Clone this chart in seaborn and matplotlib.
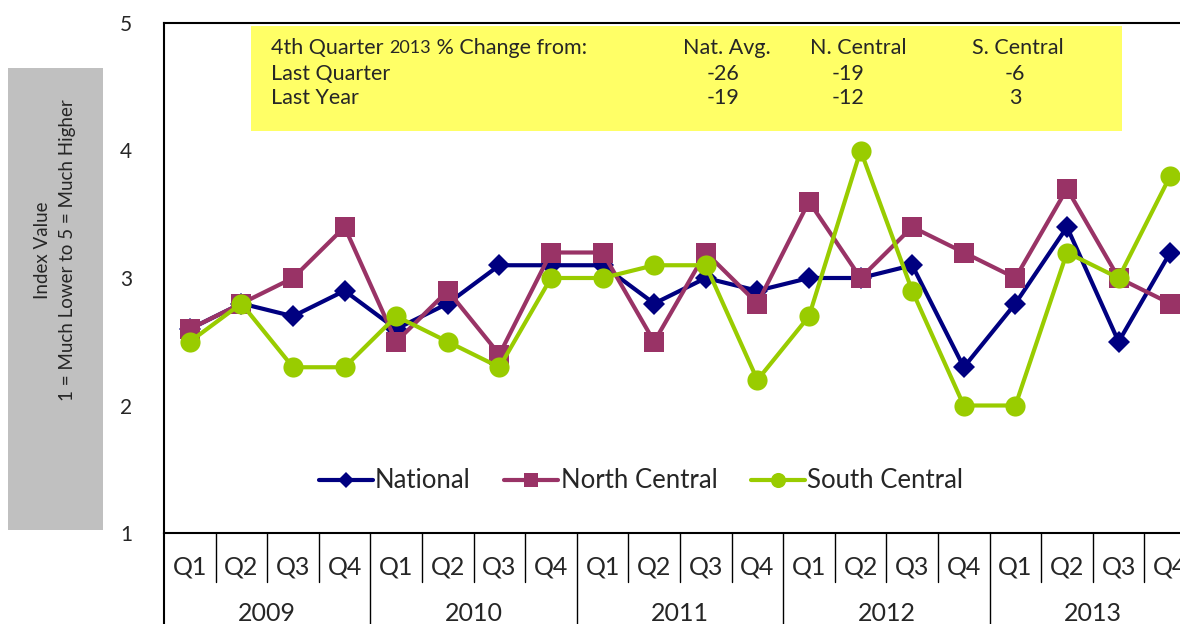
import matplotlib
matplotlib.use("Agg")
import matplotlib.pyplot as plt
from matplotlib.patches import Rectangle
import numpy as np
import pandas as pd
import seaborn as sns

# data
years = ["2009", "2010", "2011", "2012", "2013"]
quarters = ["Q1", "Q2", "Q3", "Q4"]
national = [2.6, 2.8, 2.7, 2.9, 2.6, 2.8, 3.1, 3.1, 3.1, 2.8,
            3.0, 2.9, 3.0, 3.0, 3.1, 2.3, 2.8, 3.4, 2.5, 3.2]
north_central = [2.6, 2.8, 3.0, 3.4, 2.5, 2.9, 2.4, 3.2, 3.2, 2.5,
                 3.2, 2.8, 3.6, 3.0, 3.4, 3.2, 3.0, 3.7, 3.0, 2.8]
south_central = [2.5, 2.8, 2.3, 2.3, 2.7, 2.5, 2.3, 3.0, 3.0, 3.1,
                 3.1, 2.2, 2.7, 4.0, 2.9, 2.0, 2.0, 3.2, 3.0, 3.8]

table_header = ["Nat. Avg.", "N. Central", "S. Central"]
table_rows = ["Last Quarter", "Last Year"]
last_quarter = ["-26", "-19", "-6"]
last_year = ["-19", "-12", "3"]

FONT = ["Lato", "DejaVu Sans"]
NAVY = "#000080"
PLUM = "#993366"
LIME = "#99CC00"

sns.set_theme(style="white")
plt.rcParams["font.family"] = FONT

fig = plt.figure(figsize=(11.8, 6.24), dpi=100)
ax = fig.add_axes([164 / 1180, 91 / 624, 1032 / 1180, 510 / 624])

n = len(national)
pos = np.arange(n)
series = [
    ("National", national, NAVY, "D", 11),
    ("North Central", north_central, PLUM, "s", 14),
    ("South Central", south_central, LIME, "o", 14.5),
]
for name, vals, color, marker, size in series:
    sns.lineplot(x=pos, y=vals, color=color, marker=marker, markersize=size,
                 markeredgewidth=0, linewidth=3, label=name, ax=ax)

ax.set_xlim(-0.5, n - 0.5)
ax.set_ylim(1, 5)
ax.set_yticks([1, 2, 3, 4, 5])
ax.set_xticks([])
ax.tick_params(axis="y", length=0, pad=23, labelsize=15)
ax.set_xlabel("")
ax.set_ylabel("")
for side in ["left", "top", "bottom"]:
    ax.spines[side].set_color("black")
    ax.spines[side].set_linewidth(1.5)
ax.spines["right"].set_visible(False)

# two level category axis
trans = ax.get_xaxis_transform()
for i in range(n):
    ax.text(i, -0.067, quarters[i % 4], transform=trans, ha="center", va="center",
            fontsize=18)
    if i > 0:
        year_edge = i % 4 == 0
        ax.plot([i - 0.5, i - 0.5], [0, -0.2 if year_edge else -0.096], transform=trans,
                color="black", linewidth=1, clip_on=False)
ax.plot([-0.5, -0.5], [0, -0.2], transform=trans, color="black", linewidth=1.5,
        clip_on=False)
for k, yr in enumerate(years):
    ax.text(4 * k + 1.5, -0.158, yr, transform=trans, ha="center", va="center",
            fontsize=18)

# yellow summary box
ax.add_patch(Rectangle((87 / 1032, 0.788), 871 / 1032, 0.206, transform=ax.transAxes,
                       facecolor="#FFFF66", edgecolor="none", zorder=1))
t1 = ax.text(107 / 1032, (533 - 48) / 510, "4th Quarter ", transform=ax.transAxes,
             ha="left", va="center", fontsize=15.5)
t2 = ax.annotate("2013", xy=(1, 0.5), xycoords=t1, ha="left", va="center", fontsize=13)
ax.annotate(" % Change from:", xy=(1, 0.5), xycoords=t2, ha="left", va="center",
            fontsize=15.5)
col_x = [727, 858, 1018]
for cx, head in zip(col_x, table_header):
    ax.text((cx - 164) / 1032, (533 - 48) / 510, head, transform=ax.transAxes,
            ha="center", va="center", fontsize=15.5)
for ry, label, vals in zip([74, 98], table_rows, [last_quarter, last_year]):
    ax.text(107 / 1032, (533 - ry) / 510, label, transform=ax.transAxes,
            ha="left", va="center", fontsize=15.5)
    for cx, v in zip([723, 848, 1015], vals):
        ax.text((cx - 164) / 1032, (533 - ry) / 510, v, transform=ax.transAxes,
                ha="center", va="center", fontsize=15.5)

ax.legend(loc="center", bbox_to_anchor=(477 / 1032, 52 / 510), ncol=3, frameon=False,
          fontsize=18.5, handlelength=2.1, handletextpad=0.1, columnspacing=1.3,
          markerscale=0.75)

# grey y-axis title box
fig.patches.append(Rectangle((8 / 1180, 1 - 530 / 624), 95 / 1180, 462 / 624,
                             transform=fig.transFigure, facecolor="#C0C0C0",
                             edgecolor="none", zorder=0))
fig.text(55 / 1180, 1 - 250 / 624, "Index Value\n1 = Much Lower to 5 = Much Higher",
         rotation=90, ha="center", va="center", multialignment="center", fontsize=13.5,
         linespacing=1.6)

fig.savefig("out.png", dpi=100)
